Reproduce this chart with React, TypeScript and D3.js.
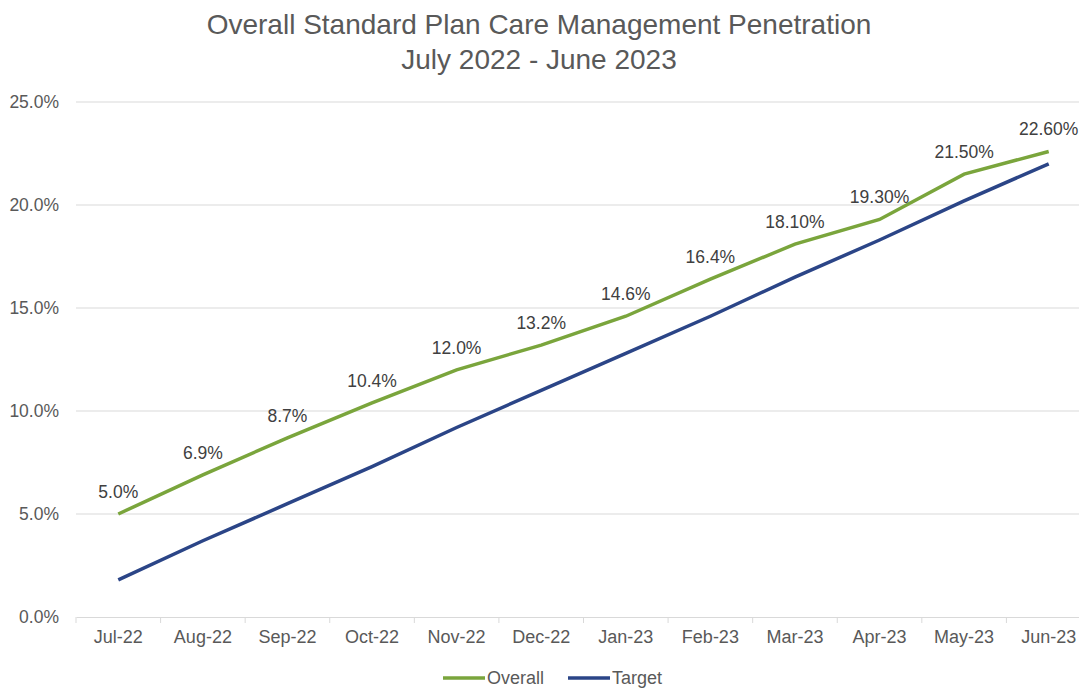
import React, { useEffect, useRef } from "react";
import * as d3 from "d3";

const months = ["Jul-22", "Aug-22", "Sep-22", "Oct-22", "Nov-22", "Dec-22", "Jan-23", "Feb-23", "Mar-23", "Apr-23", "May-23", "Jun-23"];
const overall = [5.0, 6.9, 8.7, 10.4, 12.0, 13.2, 14.6, 16.4, 18.1, 19.3, 21.5, 22.6];
const overallLabels = ["5.0%", "6.9%", "8.7%", "10.4%", "12.0%", "13.2%", "14.6%", "16.4%", "18.10%", "19.30%", "21.50%", "22.60%"];
const target = [1.8, 3.7, 5.5, 7.3, 9.2, 11.0, 12.8, 14.6, 16.5, 18.3, 20.2, 22.0];
const yTicks = [0, 5, 10, 15, 20, 25];

const W = 1079;
const H = 690;
const FONT = "'Liberation Sans', Arial, sans-serif";

export default function App() {
  const ref = useRef<SVGSVGElement>(null);

  useEffect(() => {
    const svg = d3.select(ref.current);
    svg.selectAll("*").remove();

    const left = 76;
    const right = 1091;
    const top = 102;
    const bottom = 617;

    const x = d3.scaleBand().domain(months).range([left, right]);
    const y = d3.scaleLinear().domain([0, 25]).range([bottom, top]);
    const cx = (m: string) => (x(m) as number) + x.bandwidth() / 2;

    // title
    const title = svg.append("text").attr("font-family", FONT).attr("font-size", 28)
      .attr("fill", "#595959").attr("text-anchor", "middle");
    title.append("tspan").attr("x", 539).attr("y", 34).text("Overall Standard Plan Care Management Penetration");
    title.append("tspan").attr("x", 539).attr("y", 69).text("July 2022 - June 2023");

    // gridlines
    svg.append("g").selectAll("line").data(yTicks.filter((d) => d > 0)).enter().append("line")
      .attr("x1", left).attr("x2", right)
      .attr("y1", (d) => y(d)).attr("y2", (d) => y(d))
      .attr("stroke", "#D9D9D9").attr("stroke-width", 1);

    // y labels
    svg.append("g").selectAll("text").data(yTicks).enter().append("text")
      .attr("x", 59).attr("y", (d) => y(d) + 6)
      .attr("text-anchor", "end").attr("font-family", FONT).attr("font-size", 17.5).attr("fill", "#595959")
      .text((d) => d3.format(".1f")(d) + "%");

    // x axis
    const xAxis = svg.append("g").attr("transform", `translate(0,${bottom})`)
      .call(d3.axisBottom(x).tickSize(0).tickPadding(13));
    xAxis.select(".domain").attr("stroke", "#D9D9D9");
    xAxis.selectAll("text").attr("font-family", FONT).attr("font-size", 18).attr("fill", "#595959");
    const bounds = months.map((m) => x(m) as number).concat([right]);
    xAxis.selectAll(".bound").data(bounds).enter().append("line")
      .attr("x1", (d) => d).attr("x2", (d) => d).attr("y1", 0).attr("y2", 6)
      .attr("stroke", "#D9D9D9");

    const line = d3.line<number>().x((_, i) => cx(months[i])).y((d) => y(d));

    svg.append("path").datum(target).attr("fill", "none").attr("stroke", "#2B4587")
      .attr("stroke-width", 3.5).attr("d", line);
    svg.append("path").datum(overall).attr("fill", "none").attr("stroke", "#7AA53C")
      .attr("stroke-width", 3.5).attr("d", line);

    // data labels
    svg.append("g").selectAll("text").data(overall).enter().append("text")
      .attr("x", (_, i) => cx(months[i])).attr("y", (d) => y(d) - 16)
      .attr("text-anchor", "middle").attr("font-family", FONT).attr("font-size", 17.5).attr("fill", "#404040")
      .text((_, i) => overallLabels[i]);

    // legend
    const legend = [
      { name: "Overall", color: "#7AA53C", x: 443 },
      { name: "Target", color: "#2B4587", x: 568 },
    ];
    const lg = svg.append("g");
    legend.forEach((l) => {
      lg.append("line").attr("x1", l.x).attr("x2", l.x + 42).attr("y1", 678).attr("y2", 678)
        .attr("stroke", l.color).attr("stroke-width", 3.5);
      lg.append("text").attr("x", l.x + 44).attr("y", 684).attr("font-family", FONT).attr("font-size", 18)
        .attr("fill", "#595959").text(l.name);
    });
  }, []);

  return (
    <svg ref={ref} width={W} height={H} style={{ display: "block", position: "absolute", left: 0, top: 0, background: "#fff" }} />
  );
}
